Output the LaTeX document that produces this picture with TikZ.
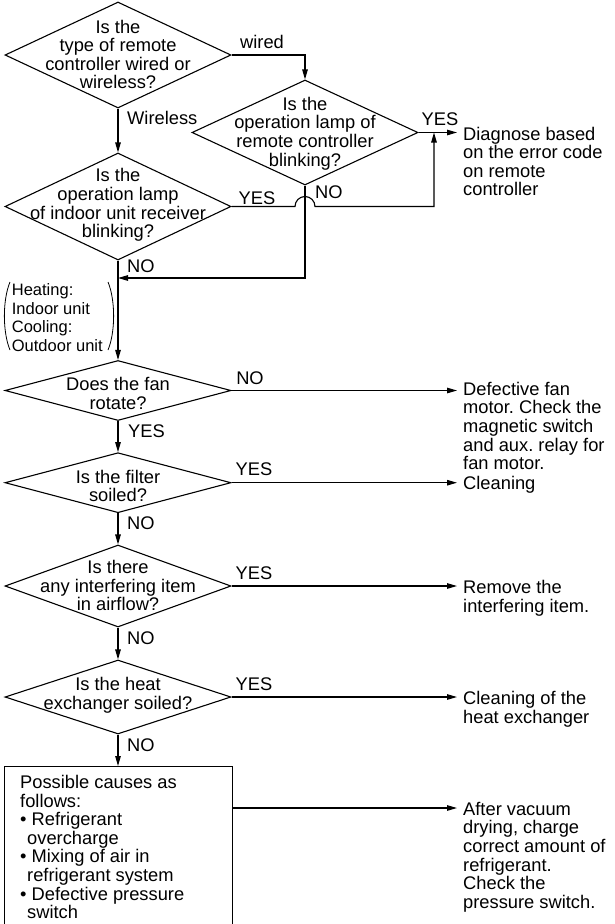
\documentclass[tikz,border=0pt]{standalone}
\usepackage{fontspec}
\setmainfont{Liberation Sans}
\usetikzlibrary{shapes.geometric,arrows.meta,calc}
\frenchspacing
\begin{document}
\begin{tikzpicture}[x=1pt,y=-1pt,
  every node/.style={font=\fontsize{18.3}{18.6}\selectfont, inner sep=0pt},
  line/.style={line width=1.1pt},
  arr/.style={line, -{Triangle[length=10pt,width=5.5pt]}},
  ask/.style={draw, diamond, line width=1.1pt, minimum width=226pt, inner sep=0pt},
  qtext/.style={align=center},
  note/.style={align=left, anchor=west},
  tip/.style={shorten >=6pt}
]
\useasboundingbox (0,0) rectangle (615,924);
\clip (0,0) rectangle (615,924);

% decision diamonds
\node[ask, minimum height=106pt] (d1) at (118,55) {};
\node[ask, minimum height=105pt] (d2) at (305,132.5) {};
\node[ask, minimum height=107pt] (d3) at (118,206.5) {};
\node[ask, minimum height=60pt]  (d4) at (118,390.5) {};
\node[ask, minimum height=60pt]  (d5) at (118,482.7) {};
\node[ask, minimum height=82pt]  (d6) at (118,586) {};
\node[ask, minimum height=74pt]  (d7) at (118,697) {};

% questions
\node[qtext] (q1) at (118,54.5) {Is the\\type of remote\\controller wired or\\wireless?};
\node[qtext] (q2) at (305,133.5) {Is the\\operation lamp of\\remote controller\\blinking?};
\node[qtext] (q3) at (118,205) {Is the\\operation lamp\\of indoor unit receiver\\blinking?};
\node[qtext] (q4) at (118,393.5) {Does the fan\\rotate?};
\node[qtext] (q5) at (118,486) {Is the filter\\soiled?};
\node[qtext] (q6) at (118,585.5) {Is there\\any interfering item\\in airflow?};
\node[qtext] (q7) at (118,695.5) {Is the heat\\exchanger soiled?};

% final box
\node[draw, line, minimum width=227.7pt, minimum height=190pt, anchor=north west] (box) at (4,766) {};
\node[note] (bt) at (20,847) {Possible causes as\\follows:\\%
• Refrigerant\\\hspace*{7pt}overcharge\\%
• Mixing of air in\\\hspace*{7pt}refrigerant system\\%
• Defective pressure\\\hspace*{7pt}switch};

% remedies
\node[note] (r2) at (463,161.5) {Diagnose based\\on the error code\\on remote\\controller};
\node[note] (r4) at (463,426) {Defective fan\\motor. Check the\\magnetic switch\\and aux. relay for\\fan motor.};
\node[note] (r5) at (463,485) {Cleaning};
\node[note] (r6) at (463,598.5) {Remove the\\interfering item.};
\node[note] (r7) at (463,709) {Cleaning of the\\heat exchanger};
\node[note] (r8) at (463,857) {After vacuum\\drying, charge\\correct amount of\\refrigerant.\\Check the\\pressure switch.};

% side remark on the trunk
\node[note, font=\fontsize{16.5}{18.4}\selectfont] (side) at (11.7,317.5) {Heating:\\Indoor unit\\Cooling:\\Outdoor unit};
\draw[line width=0.8pt] (10,282) .. controls (2.5,300) and (2.5,332) .. (10,350);
\draw[line width=0.8pt] (108,282) .. controls (115.5,300) and (115.5,332) .. (108,350);

% branch labels
\node (lw)  at (262,41.7) {wired};
\node[anchor=west] (lwl) at (127,118) {Wireless};
\node (y2)  at (440,119.5) {YES};
\node[anchor=west] (n2) at (315,192) {NO};
\node (y3)  at (257,198) {YES};
\node[anchor=west] (n3) at (127,266) {NO};
\node (n4)  at (250,378) {NO};
\node[anchor=west] (y4) at (128,431) {YES};
\node (y5)  at (254,469) {YES};
\node[anchor=west] (n5) at (127,523) {NO};
\node (y6)  at (254,573) {YES};
\node[anchor=west] (n6) at (127,638) {NO};
\node (y7)  at (254,684) {YES};
\node[anchor=west] (n7) at (127,745) {NO};

% connectors
\coordinate (m) at (118,278);
\coordinate (yj) at (434,132.5);
\coordinate (a8) at (463,808);
\draw[arr] (d1.east) -| (d2.north);
\draw[arr] (d1.south) -- (d3.north);
\draw[arr, tip] (d2.east) -- (d2.east -| r2.west);
\draw[arr] (d2.south) |- (m);
\draw[arr] (d3.east) -- ($(d2.south |- d3.east)+(-10,0)$)
  arc[start angle=180, end angle=360, radius=10] -- (yj |- d3.east) -- (yj);
\draw[arr] (d3.south) -- (d4.north);
\draw[line width=1.8pt] (m) -- ($(d4.north)+(0,-10)$);
\draw[arr, tip] (d4.east) -- (d4.east -| r4.west);
\draw[arr] (d4.south) -- (d5.north);
\draw[arr, tip] (d5.east) -- (d5.east -| r5.west);
\draw[arr] (d5.south) -- (d6.north);
\draw[arr, tip] (d6.east) -- (d6.east -| r6.west);
\draw[arr] (d6.south) -- (d7.north);
\draw[arr, tip] (d7.east) -- (d7.east -| r7.west);
\draw[arr] (d7.south) -- (d7.south |- box.north);
\draw[arr, tip] (box.east |- a8) -- (a8);
\end{tikzpicture}
\end{document}
